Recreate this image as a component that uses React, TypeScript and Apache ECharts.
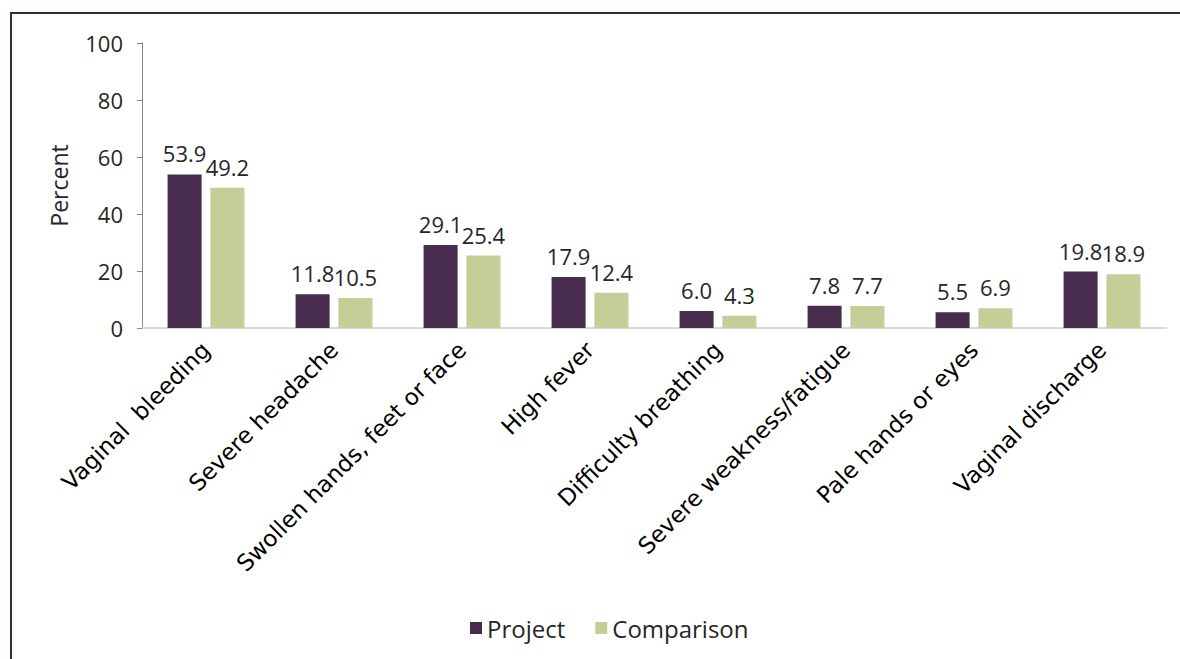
import React, { useEffect, useRef } from "react";
import * as echarts from "echarts";

const categories = [
  "Vaginal  bleeding",
  "Severe headache",
  "Swollen hands, feet or face",
  "High fever",
  "Difficulty breathing",
  "Severe weakness/fatigue",
  "Pale hands or eyes",
  "Vaginal discharge",
];
const projectValues = [53.9, 11.8, 29.1, 17.9, 6.0, 7.8, 5.5, 19.8];
const comparisonValues = [49.2, 10.5, 25.4, 12.4, 4.3, 7.7, 6.9, 18.9];
const seriesNames = ["Project", "Comparison"];
const yTicks = { min: 0, max: 100, interval: 20 };

export default function App() {
  const ref = useRef<HTMLDivElement>(null);
  useEffect(() => {
    if (!ref.current) return;
    const chart = echarts.init(ref.current, undefined, { renderer: "svg" });
    const numFont = "Open Sans";
    const labelStyle = {
      show: true,
      position: "top" as const,
      distance: 10,
      fontFamily: numFont,
      fontSize: 22,
      color: "#262626",
      formatter: (p: any) => Number(p.value).toFixed(1),
    };
    chart.setOption({
      animation: false,
      backgroundColor: "#fff",
      graphic: [
        {
          type: "rect",
          shape: { x: 11, y: 13, width: 1200, height: 700 },
          style: { fill: "none", stroke: "#3F2647", lineWidth: 2 },
          silent: true,
        },
      ],
      grid: { left: 142, right: 14, top: 43, bottom: 331 },
      legend: {
        bottom: 14,
        left: 465,
        itemWidth: 12,
        itemHeight: 12,
        itemGap: 30,
        icon: "rect",
        textStyle: { fontFamily: numFont, fontSize: 24, color: "#262626" },
        data: seriesNames,
      },
      xAxis: {
        type: "category",
        data: categories,
        axisLine: { show: true, lineStyle: { color: "#d9d9d9", width: 2 } },
        axisTick: { show: false },
        axisLabel: {
          interval: 0,
          rotate: 45,
          fontFamily: "DejaVu Sans",
          fontSize: 23,
          color: "#000",
          margin: 18,
        },
      },
      yAxis: {
        type: "value",
        min: yTicks.min,
        max: yTicks.max,
        interval: yTicks.interval,
        name: "Percent",
        nameLocation: "middle",
        nameGap: 72,
        nameRotate: 90,
        nameTextStyle: { fontFamily: numFont, fontSize: 23, color: "#262626" },
        axisLine: { show: true, lineStyle: { color: "#868686", width: 1 } },
        axisTick: { show: true, length: 5, lineStyle: { color: "#868686" } },
        axisLabel: { fontFamily: numFont, fontSize: 22, color: "#262626", margin: 19 },
        splitLine: { show: false },
      },
      series: [
        {
          name: seriesNames[0],
          type: "bar",
          data: projectValues,
          barWidth: 34,
          barGap: "26%",
          itemStyle: { color: "#472C4E" },
          label: labelStyle,
        },
        {
          name: seriesNames[1],
          type: "bar",
          data: comparisonValues,
          barWidth: 34,
          barGap: "26%",
          itemStyle: { color: "#C3CF96" },
          label: labelStyle,
        },
      ],
    });
    return () => chart.dispose();
  }, []);
  return (
    <div
      ref={ref}
      style={{ position: "absolute", left: 0, top: 0, width: 1180, height: 659 }}
    />
  );
}
